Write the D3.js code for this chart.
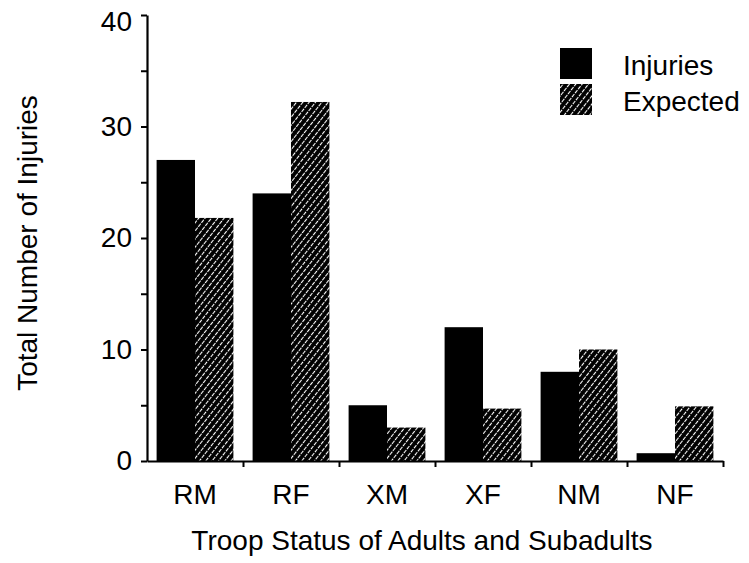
<!DOCTYPE html>
<meta charset="utf-8">
<style>
body { margin: 0; background: #fff; }
text { font-family: "Liberation Sans", Arial, sans-serif; fill: #000; }
</style>
<body>
<script src="https://cdn.jsdelivr.net/npm/d3@7"></script>
<script>

// data
var categories = ["RM", "RF", "XM", "XF", "NM", "NF"];
var seriesNames = ["Injuries", "Expected"];
var injuries = [27, 24, 5, 12, 8, 0.7];
var expected = [21.8, 32.2, 3, 4.7, 10, 4.9];
var yTicks = [0, 5, 10, 15, 20, 25, 30, 35, 40];

var W = 749, H = 563;

var svg = d3.select("body").append("svg")
    .attr("width", W)
    .attr("height", H);

// hatch for the "Expected" bars
var defs = svg.append("defs");
var pat = defs.append("pattern")
    .attr("id", "hatch")
    .attr("patternUnits", "userSpaceOnUse")
    .attr("width", 5)
    .attr("height", 5)
    .attr("patternTransform", "rotate(38)");
pat.append("rect")
    .attr("width", 5).attr("height", 5)
    .attr("fill", "#000");
pat.append("line")
    .attr("x1", 2.5).attr("y1", 0)
    .attr("x2", 2.5).attr("y2", 5)
    .attr("stroke", "#fff")
    .attr("stroke-width", 1.1)
    .attr("stroke-dasharray", "3,1");

// scales
var x = d3.scaleBand()
    .domain(categories)
    .range([147, 723])
    .paddingInner(0.2)
    .paddingOuter(0.1);

var xs = d3.scaleBand()
    .domain(seriesNames)
    .range([0, x.bandwidth()]);

var y = d3.scaleLinear()
    .domain([0, 40])
    .range([461, 15]);

var fills = { Injuries: "#000", Expected: "url(#hatch)" };

var rows = categories.map(function(c, i) {
  return { cat: c, Injuries: injuries[i], Expected: expected[i] };
});

// bars
var groups = svg.append("g").selectAll("g")
    .data(rows)
    .enter().append("g")
    .attr("transform", function(d) { return "translate(" + x(d.cat) + ",0)"; });

groups.selectAll("rect")
    .data(function(d) { return seriesNames.map(function(k) { return { key: k, value: d[k] }; }); })
    .enter().append("rect")
    .attr("x", function(d) { return xs(d.key); })
    .attr("y", function(d) { return y(d.value); })
    .attr("width", xs.bandwidth())
    .attr("height", function(d) { return y(0) - y(d.value); })
    .attr("fill", function(d) { return fills[d.key]; });

// y axis
var yAxis = svg.append("g")
    .attr("transform", "translate(147,0)")
    .call(d3.axisLeft(y)
      .tickValues(yTicks)
      .tickSize(6)
      .tickSizeOuter(0)
      .tickPadding(9)
      .tickFormat(function(d) { return d % 10 === 0 ? d : ""; }));
yAxis.select(".domain").attr("stroke-width", 2.2);
yAxis.selectAll(".tick line").attr("stroke-width", 2);
yAxis.selectAll("text")
    .attr("font-size", 28)
    .attr("font-family", "Liberation Sans, Arial, sans-serif");
// the top label sits a little low in the original
yAxis.selectAll(".tick text")
    .filter(function(d) { return d === 40; })
    .attr("dy", "0.55em");

// x axis: ticks sit on group boundaries
var xb = d3.scaleLinear().domain([0, categories.length]).range([147, 723]);
var xAxis = svg.append("g")
    .attr("transform", "translate(0,461)")
    .call(d3.axisBottom(xb)
      .tickValues(d3.range(1, categories.length + 1))
      .tickSize(6)
      .tickSizeOuter(0)
      .tickFormat(""));
xAxis.select(".domain").attr("stroke-width", 2.2);
xAxis.selectAll(".tick line").attr("stroke-width", 2);

// category labels
svg.append("g").selectAll("text")
    .data(categories)
    .enter().append("text")
    .attr("x", function(d) { return x(d) + x.bandwidth() / 2; })
    .attr("y", 504)
    .attr("text-anchor", "middle")
    .attr("font-size", 28)
    .text(function(d) { return d; });

// axis titles
svg.append("text")
    .attr("x", 422)
    .attr("y", 550)
    .attr("text-anchor", "middle")
    .attr("font-size", 28)
    .text("Troop Status of Adults and Subadults");

svg.append("text")
    .attr("transform", "translate(37,243) rotate(-90)")
    .attr("text-anchor", "middle")
    .attr("font-size", 28)
    .text("Total Number of Injuries");

// legend
var legend = svg.append("g").selectAll("g")
    .data(seriesNames)
    .enter().append("g")
    .attr("transform", function(d, i) { return "translate(560," + (48 + i * 36) + ")"; });

legend.append("rect")
    .attr("width", 32)
    .attr("height", 31)
    .attr("fill", function(d) { return fills[d]; });

legend.append("text")
    .attr("x", 63)
    .attr("y", 27)
    .attr("font-size", 28)
    .text(function(d) { return d; });

</script>
</body>
